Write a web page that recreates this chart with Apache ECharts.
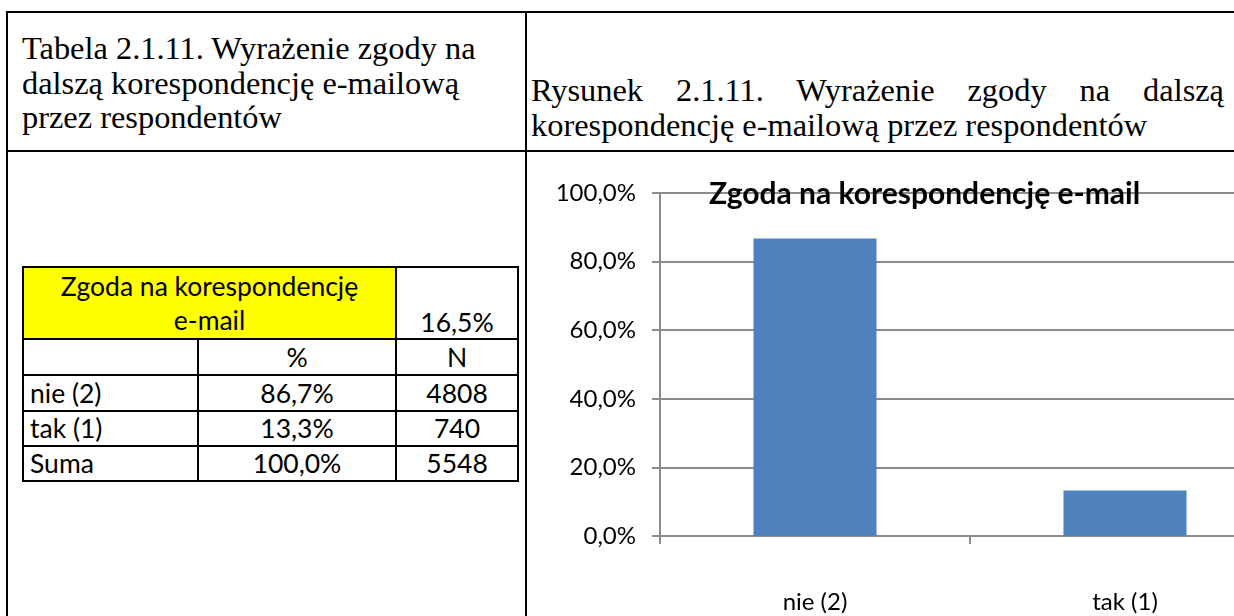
<!DOCTYPE html>
<html lang="pl">
<head>
<meta charset="utf-8">
<title>Zgoda na korespondencję e-mail</title>
<script src="https://cdn.jsdelivr.net/npm/echarts@6/dist/echarts.min.js"></script>
<style>
  html, body { margin: 0; padding: 0; width: 1234px; height: 616px; overflow: hidden; background: #fff; }
  .rule { position: absolute; background: #000; }
  .caption { position: absolute; font-family: 'Liberation Serif', 'Times New Roman', serif; font-size: 32.4px; color: #000; }
  #capLeft { left: 22px; top: 31px; line-height: 34.5px; white-space: nowrap; }
  #capRight { left: 531px; top: 73px; width: 693px; line-height: 35px; text-align: justify; }
  #tbl { position: absolute; left: 22px; top: 266px; width: 495px; border-collapse: collapse; table-layout: fixed;
         font-family: Lato, sans-serif; font-size: 26.5px; color: #000; }
  #tbl td { border: 2px solid #000; padding: 0; text-align: center; vertical-align: middle; white-space: nowrap; line-height: 31px; }
  #tbl td.label { text-align: left; padding-left: 6px; }
  #tbl td.head { background: #ffff00; line-height: 34px; }
  #tbl td.total { vertical-align: bottom; }
  #chart { position: absolute; left: 527px; top: 153px; width: 795px; height: 463px; }
</style>
</head>
<body>
  <div class="rule" style="left:6px;top:11px;width:1228px;height:2px"></div>
  <div class="rule" style="left:6px;top:11px;width:2px;height:605px"></div>
  <div class="rule" style="left:525px;top:11px;width:2px;height:605px"></div>
  <div class="rule" style="left:6px;top:150px;width:1228px;height:2px"></div>

  <div id="capLeft" class="caption">Tabela 2.1.11. Wyrażenie zgody na<br>dalszą korespondencję e-mailową<br>przez respondentów</div>
  <div id="capRight" class="caption">Rysunek 2.1.11. Wyrażenie zgody na dalszą korespondencję e-mailową przez respondentów</div>

  <table id="tbl">
    <colgroup><col style="width:175px"><col style="width:198px"><col style="width:122px"></colgroup>
    <tbody id="tblBody"></tbody>
  </table>

  <div id="chart"></div>

<script>
// table values
const tableTitle = ['Zgoda na korespondencję', 'e-mail'];
const tableShare = '16,5%';
const colHeads = ['%', 'N'];
const rowLabels = ['nie (2)', 'tak (1)', 'Suma'];
const rowPercents = ['86,7%', '13,3%', '100,0%'];
const rowCounts = ['4808', '740', '5548'];

// chart values
const chartTitle = 'Zgoda na korespondencję e-mail';
const categories = ['nie (2)', 'tak (1)'];
const shares = [86.7, 13.3];

// build the table
const body = document.getElementById('tblBody');
let html = '<tr style="height:72px"><td class="head" colspan="2">' + tableTitle.join('<br>') +
  '</td><td class="total">' + tableShare + '</td></tr>';
html += '<tr style="height:36px"><td></td><td>' + colHeads[0] + '</td><td>' + colHeads[1] + '</td></tr>';
const rowHeights = [36, 35, 35];
rowLabels.forEach((lab, i) => {
  html += '<tr style="height:' + rowHeights[i] + 'px"><td class="label">' + lab + '</td><td>' + rowPercents[i] +
    '</td><td>' + rowCounts[i] + '</td></tr>';
});
body.innerHTML = html;

const axisGray = '#8c8c8c';
const chart = echarts.init(document.getElementById('chart'));
chart.setOption({
  animation: false,
  title: {
    text: chartTitle,
    left: 'center',
    top: 21,
    textStyle: { fontFamily: 'Lato', fontWeight: 'bold', fontSize: 30, color: '#000' }
  },
  grid: { left: 133, right: 42, top: 40, bottom: 80 },
  xAxis: {
    type: 'category',
    data: categories,
    axisLine: { lineStyle: { color: axisGray, width: 2 } },
    axisTick: { show: true, length: 8, lineStyle: { color: axisGray, width: 2 } },
    axisLabel: { fontFamily: 'Lato', fontSize: 24, color: '#000', margin: 54 }
  },
  yAxis: {
    type: 'value',
    min: 0,
    max: 100,
    interval: 20,
    axisLine: { show: true, lineStyle: { color: axisGray, width: 2 } },
    axisTick: { show: true, length: 8, lineStyle: { color: axisGray, width: 2 } },
    splitLine: { lineStyle: { color: axisGray, width: 2 } },
    axisLabel: {
      fontFamily: 'Lato', fontSize: 24, color: '#000', margin: 24,
      formatter: v => v.toFixed(1).replace('.', ',') + '%'
    }
  },
  series: [{
    type: 'bar',
    data: shares,
    barWidth: '39.7%',
    itemStyle: { color: '#4f81bd' }
  }]
});
</script>
</body>
</html>
